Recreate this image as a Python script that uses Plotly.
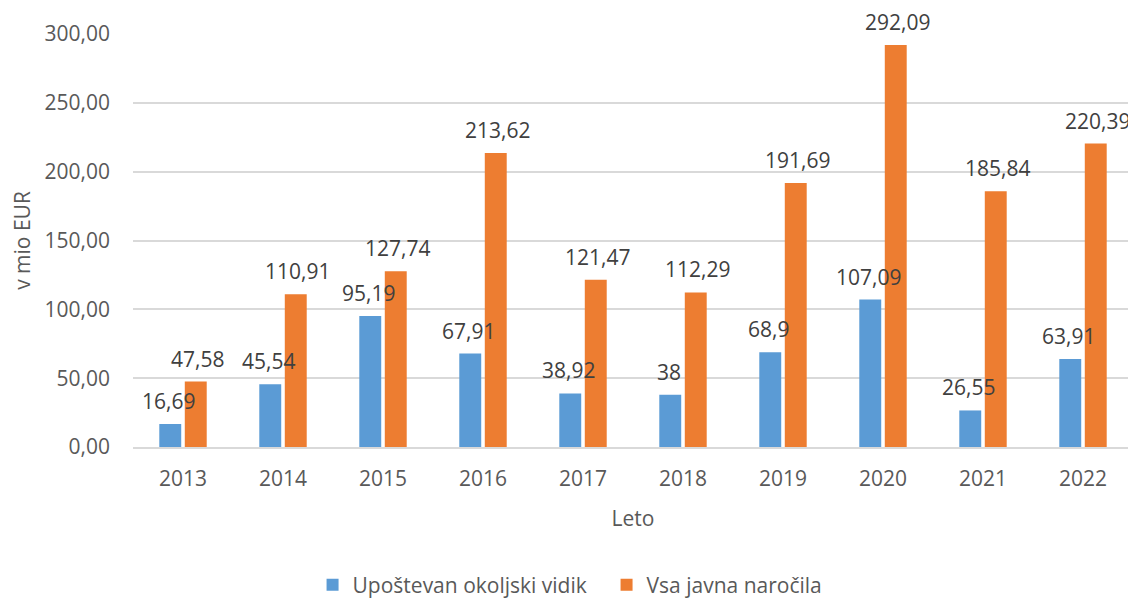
import plotly.graph_objects as go

years = ["2013", "2014", "2015", "2016", "2017", "2018", "2019", "2020", "2021", "2022"]
okoljski = [16.69, 45.54, 95.19, 67.91, 38.92, 38, 68.9, 107.09, 26.55, 63.91]
vsa = [47.58, 110.91, 127.74, 213.62, 121.47, 112.29, 191.69, 292.09, 185.84, 220.39]
okoljski_labels = ["16,69", "45,54", "95,19", "67,91", "38,92", "38", "68,9", "107,09", "26,55", "63,91"]
vsa_labels = ["47,58", "110,91", "127,74", "213,62", "121,47", "112,29", "191,69", "292,09", "185,84", "220,39"]
y_ticks = [0, 50, 100, 150, 200, 250, 300]

BLUE = "#5b9bd5"
ORANGE = "#ed7d31"
FONT = "Open Sans"
FS = 21

fig = go.Figure()
fig.add_trace(go.Bar(x=years, y=okoljski, name="Upoštevan okoljski vidik",
                     marker=dict(color=BLUE, line=dict(width=0))))
fig.add_trace(go.Bar(x=years, y=vsa, name="Vsa javna naročila",
                     marker=dict(color=ORANGE, line=dict(width=0))))

annotations = []
for series, labels, shift in ((okoljski, okoljski_labels, -14.5), (vsa, vsa_labels, 14.5)):
    for idx, (yv, t) in enumerate(zip(series, labels)):
        # on a category axis, numeric x is the category index
        annotations.append(dict(x=idx, y=yv, text=t, showarrow=False, xref="x", yref="y",
                                xanchor="center", yanchor="middle", xshift=shift, yshift=23,
                                font=dict(family=FONT, size=FS, color="#404040")))

# the page body adds an 8px margin, so the figure is sized to the remaining area
fig.update_layout(
    width=1128, height=590,
    margin=dict(l=125, r=3, t=26, b=151, autoexpand=False),
    paper_bgcolor="white", plot_bgcolor="white",
    barmode="group", bargap=0.49, bargroupgap=0.14,
    separators=",.",
    font=dict(family=FONT, size=FS, color="#595959"),
    annotations=annotations,
    showlegend=True,
    legend=dict(orientation="h", xref="container", yref="container",
                x=0.270, xanchor="left", y=0.022, yanchor="middle",
                entrywidth=249,
                font=dict(family=FONT, size=FS, color="#595959"), itemwidth=30,
                traceorder="normal"),
    xaxis=dict(type="category", range=[-0.5, len(years) - 0.5], automargin=False,
               title=dict(text="Leto", font=dict(size=FS, color="#595959"), standoff=20),
               showgrid=False, showline=True, linecolor="#d9d9d9", linewidth=1.5,
               ticks="", tickfont=dict(size=FS, color="#595959"), ticklabelstandoff=12),
    yaxis=dict(title=dict(text="v mio EUR", font=dict(size=FS, color="#595959"), standoff=18),
               range=[0, 300], tickvals=y_ticks, tickformat=".2f", automargin=False,
               showgrid=True, gridcolor="#d9d9d9", gridwidth=1.5,
               zeroline=False, showline=False, ticks="",
               tickfont=dict(size=FS, color="#595959"), ticklabelstandoff=22),
)

fig.write_html("out.html")
